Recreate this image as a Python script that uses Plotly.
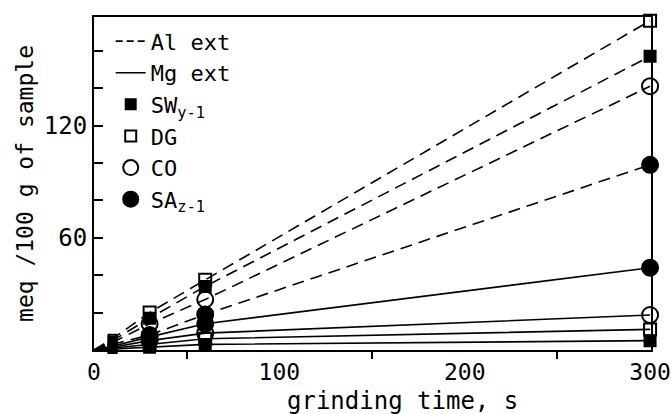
import plotly.graph_objects as go

times = [0, 10, 30, 60, 300]
samples = ["SWy-1", "DG", "CO", "SAz-1"]
sample_labels = ["SW<sub>y-1</sub>", "DG", "CO", "SA<sub>z-1</sub>"]
al_ext = {
    "SWy-1": [0, 5, 17, 34, 157],
    "DG": [0, 6, 20, 37.5, 176],
    "CO": [0, 4, 14, 27, 141],
    "SAz-1": [0, 3, 8, 19, 99],
}
mg_ext = {
    "SWy-1": [0, 0.5, 1.5, 3, 5],
    "DG": [0, 1, 3, 6, 11],
    "CO": [0, 1.5, 5, 9, 18.7],
    "SAz-1": [0, 2, 7, 14, 44],
}
symbols = {"SWy-1": "square", "DG": "square-open", "CO": "circle-open", "SAz-1": "circle"}
sizes = {"SWy-1": 11, "DG": 12, "CO": 16, "SAz-1": 16}
x_ticks = [0, 100, 200, 300]
y_ticks = [60, 120]

FONT = "DejaVu Sans Mono"
DASH = "12px,7px"
fig = go.Figure()

for s in samples:
    sz = [0, 8] + [sizes[s]] * (len(times) - 2)
    for vals, dash in ((al_ext[s], DASH), (mg_ext[s], "solid")):
        fig.add_trace(go.Scatter(
            x=times, y=vals, mode="lines+markers",
            line=dict(color="black", width=1.6, dash=dash),
            marker=dict(symbol=symbols[s], size=sz, color="black", opacity=1,
                        line=dict(color="black", width=2)),
            showlegend=False, cliponaxis=False))

# legend entries
fig.add_trace(go.Scatter(x=[None], y=[None], mode="lines", name="Al ext",
                         line=dict(color="black", width=1.6, dash="7px,4px"), legendgroup="a"))
fig.add_trace(go.Scatter(x=[None], y=[None], mode="lines", name="Mg ext",
                         line=dict(color="black", width=1.6), legendgroup="b"))
for s, lab in zip(samples, sample_labels):
    fig.add_trace(go.Scatter(x=[None], y=[None], mode="markers", name=lab, legendgroup=s,
                             marker=dict(symbol=symbols[s], size=sizes[s] - 1, color="black",
                                         opacity=1, line=dict(color="black", width=2))))

fig.update_layout(
    width=672, height=414,
    margin=dict(l=94, r=21, t=17, b=64),
    plot_bgcolor="white", paper_bgcolor="white",
    font=dict(family=FONT, size=22, color="black"),
    showlegend=True,
    legend=dict(x=0.03, y=0.99, xanchor="left", yanchor="top",
                bgcolor="rgba(0,0,0,0)", font=dict(size=22, family=FONT),
                tracegroupgap=0, itemwidth=30),
    xaxis=dict(range=[0, 300.5], tickvals=x_ticks, ticktext=[str(v) for v in x_ticks],
               ticks="", showgrid=False, zeroline=False, automargin=False,
               showline=True, linecolor="black", linewidth=2, mirror=True,
               minor=dict(tickvals=[50, 150, 250], ticks="outside", ticklen=7,
                          tickcolor="black", tickwidth=1.5),
               tickfont=dict(size=23)),
    yaxis=dict(range=[0, 178], tickvals=y_ticks, ticktext=[str(v) for v in y_ticks],
               ticks="inside", ticklen=9, tickcolor="black", tickwidth=1.5,
               showgrid=False, zeroline=False, automargin=False,
               showline=True, linecolor="black", linewidth=2, mirror=True,
               minor=dict(tickvals=[20, 40, 80, 100, 140, 160], ticks="inside",
                          ticklen=9, tickcolor="black", tickwidth=1.5),
               tickfont=dict(size=24),
               title=dict(text="meq /100 g of sample", font=dict(size=23), standoff=4)),
    annotations=[dict(text="grinding time, s", xref="paper", yref="paper",
                      x=0.553, y=0, xanchor="center", yanchor="middle", yshift=-51,
                      showarrow=False, font=dict(size=24, family=FONT))],
)

fig.write_html("out.html", config={"displayModeBar": False},
               post_script="document.body.style.margin='0';")
